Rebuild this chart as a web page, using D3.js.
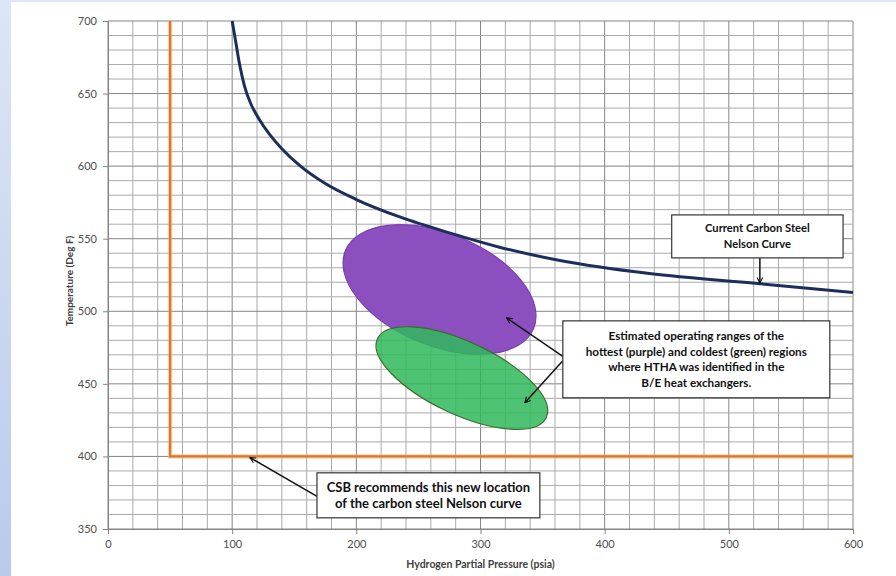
<!DOCTYPE html>
<html>
<head>
<meta charset="utf-8">
<script src="https://cdn.jsdelivr.net/npm/d3@7"></script>
<style>
  html, body { margin: 0; padding: 0; background: #fff; }
  svg { display: block; }
  text { font-family: Lato, "Open Sans", sans-serif; }
</style>
</head>
<body>
<svg id="chart"></svg>
<script>
// axis ticks
const pressureTicks = [0, 100, 200, 300, 400, 500, 600];
const tempTicks = [350, 400, 450, 500, 550, 600, 650, 700];

// current carbon steel Nelson curve (psia, deg F)
const nelsonPressure = [100, 103, 106, 110, 115, 122, 130, 140, 155, 175, 200, 235, 275, 316, 364, 436, 525, 600];
const nelsonTemp = [700, 685, 670, 655, 643, 632, 622, 612, 600, 588, 577, 565, 554, 544, 535, 526, 519, 513];

// CSB recommended limit
const csbPressure = [50, 50, 600];
const csbTemp = [700, 400, 400];

// HTHA operating regions (centre, half spread along tilt, tilt deg)
const regionNames = ["hottest", "coldest"];
const regionPressure = [267, 285];
const regionTemp = [515, 454];
const regionSpreadP = [82, 75];
const regionSpreadT = [38.6, 25];
const regionTilt = [22.5, 25];

const W = 896, H = 576;
const margin = {left: 108, right: 43, top: 21, bottom: 47};

const svg = d3.select("#chart")
    .attr("width", W)
    .attr("height", H);

// bluish slide background
const defs = svg.append("defs");
const bg = defs.append("linearGradient")
    .attr("id", "bg")
    .attr("x1", 0).attr("y1", 0).attr("x2", 0).attr("y2", 1);
bg.append("stop").attr("offset", 0).attr("stop-color", "#dde6f6");
bg.append("stop").attr("offset", 1).attr("stop-color", "#b9caeb");

defs.append("marker")
    .attr("id", "arrow")
    .attr("viewBox", "0 -5 10 10")
    .attr("refX", 9).attr("refY", 0)
    .attr("markerWidth", 7).attr("markerHeight", 7)
    .attr("markerUnits", "userSpaceOnUse")
    .attr("orient", "auto")
    .append("path")
    .attr("d", "M1,-4L9,0L1,4")
    .attr("fill", "none")
    .attr("stroke", "#111")
    .attr("stroke-width", 1.6);

svg.append("rect").attr("width", W).attr("height", H).attr("fill", "url(#bg)");
svg.append("rect").attr("x", 11).attr("y", 2).attr("width", W - 11).attr("height", H - 2).attr("fill", "#fff");

const x = d3.scaleLinear().domain([0, 600]).range([margin.left, W - margin.right]);
const y = d3.scaleLinear().domain([350, 700]).range([H - margin.bottom, margin.top]);

// grid: minor every 20 psia / 10 deg, major on the ticks
const g = svg.append("g");
g.selectAll("line.vx")
    .data(d3.range(0, 601, 20))
    .join("line")
    .attr("x1", d => x(d)).attr("x2", d => x(d))
    .attr("y1", y(350)).attr("y2", y(700))
    .attr("stroke", d => d % 100 === 0 ? "#858585" : "#ababab")
    .attr("stroke-width", 1);
g.selectAll("line.hy")
    .data(d3.range(350, 701, 10))
    .join("line")
    .attr("x1", x(0)).attr("x2", x(600))
    .attr("y1", d => y(d)).attr("y2", d => y(d))
    .attr("stroke", d => d % 50 === 0 ? "#858585" : "#ababab")
    .attr("stroke-width", 1);

// axes
const xAxis = svg.append("g")
    .attr("transform", `translate(0,${y(350)})`)
    .call(d3.axisBottom(x).tickValues(pressureTicks).tickSize(5).tickPadding(6));
const yAxis = svg.append("g")
    .attr("transform", `translate(${x(0)},0)`)
    .call(d3.axisLeft(y).tickValues(tempTicks).tickSize(5).tickPadding(6));
[xAxis, yAxis].forEach(a => {
    a.select(".domain").attr("stroke", "#858585");
    a.selectAll(".tick line").attr("stroke", "#858585");
    a.selectAll(".tick text")
        .attr("fill", "#4d4d4d")
        .style("font-size", "11px")
        .style("font-family", "Lato, sans-serif");
});

svg.append("text")
    .attr("x", (x(0) + x(600)) / 2)
    .attr("y", 568)
    .attr("text-anchor", "middle")
    .attr("fill", "#404040")
    .style("font-size", "10.5px")
    .style("font-weight", "bold")
    .text("Hydrogen Partial Pressure (psia)");

svg.append("text")
    .attr("transform", `translate(73,${(y(350) + y(700)) / 2 + 6}) rotate(-90)`)
    .attr("text-anchor", "middle")
    .attr("fill", "#404040")
    .style("font-size", "10px")
    .style("font-weight", "bold")
    .text("Temperature (Deg F)");

// HTHA regions
const regionFill = ["#8b4fc0", "#2fb85a"];
const regionStroke = ["#7b3fae", "#3b6e2c"];
const regionOpacity = [1, 0.85];
regionNames.forEach((name, i) => {
    const cx = x(regionPressure[i]);
    const cy = y(regionTemp[i]);
    const rx = x(regionPressure[i] + regionSpreadP[i]) - x(regionPressure[i]);
    const ry = y(regionTemp[i]) - y(regionTemp[i] + regionSpreadT[i]);
    svg.append("ellipse")
        .attr("class", name)
        .attr("cx", 0).attr("cy", 0)
        .attr("rx", rx).attr("ry", ry)
        .attr("transform", `translate(${cx},${cy}) rotate(${regionTilt[i]})`)
        .attr("fill", regionFill[i])
        .attr("fill-opacity", regionOpacity[i])
        .attr("stroke", regionStroke[i])
        .attr("stroke-width", 1.2);
});

// CSB line
const csbData = csbPressure.map((p, i) => [p, csbTemp[i]]);
svg.append("path")
    .datum(csbData)
    .attr("d", d3.line().x(d => x(d[0])).y(d => y(d[1])))
    .attr("fill", "none")
    .attr("stroke", "#f2b27a")
    .attr("stroke-width", 4.5)
    .attr("stroke-opacity", 0.6);
svg.append("path")
    .datum(csbData)
    .attr("d", d3.line().x(d => x(d[0])).y(d => y(d[1])))
    .attr("fill", "none")
    .attr("stroke", "#d67a2a")
    .attr("stroke-width", 2.2);

// Nelson curve
const nelsonData = nelsonPressure.map((p, i) => [p, nelsonTemp[i]]);
svg.append("path")
    .datum(nelsonData)
    .attr("d", d3.line().curve(d3.curveMonotoneX).x(d => x(d[0])).y(d => y(d[1])))
    .attr("fill", "none")
    .attr("stroke", "#1c2f5c")
    .attr("stroke-width", 3);

// callouts, placed in data units
const callouts = [
    {box: [454, 592, 566.4, 536.8], lines: ["Current Carbon Steel", "Nelson Curve"], size: 11.2, lh: 16,
     arrows: [[[525, 536.8], [525, 519.5]]]},
    {box: [366.3, 581.3, 493.4, 440.4],
     lines: ["Estimated operating ranges of the", "hottest (purple) and coldest (green) regions",
             "where HTHA was identified in the", "B/E heat exchangers."], size: 11.7, lh: 15.6,
     arrows: [[[366.3, 469], [321, 495.5]], [[366.3, 466], [335.7, 437]]]},
    {box: [168.3, 347.8, 388.7, 357.7], lines: ["CSB recommends this new location", "of the carbon steel Nelson curve"], size: 13, lh: 16.5,
     arrows: [[[168.3, 372.5], [114.3, 399.2]]]}
];

callouts.forEach(c => {
    const [p0, p1, t0, t1] = c.box;
    c.arrows.forEach(a => {
        svg.append("line")
            .attr("x1", x(a[0][0])).attr("y1", y(a[0][1]))
            .attr("x2", x(a[1][0])).attr("y2", y(a[1][1]))
            .attr("stroke", "#111")
            .attr("stroke-width", 1.5)
            .attr("marker-end", "url(#arrow)");
    });
    svg.append("rect")
        .attr("x", x(p0)).attr("y", y(t0))
        .attr("width", x(p1) - x(p0)).attr("height", y(t1) - y(t0))
        .attr("fill", "#fff")
        .attr("stroke", "#333")
        .attr("stroke-width", 1.2);
    const midY = (y(t0) + y(t1)) / 2;
    const firstY = midY - c.lh * (c.lines.length - 1) / 2 + c.size * 0.35;
    c.lines.forEach((s, i) => {
        svg.append("text")
            .attr("x", (x(p0) + x(p1)) / 2)
            .attr("y", firstY + i * c.lh)
            .attr("text-anchor", "middle")
            .attr("fill", "#111")
            .style("font-size", c.size + "px")
            .style("font-weight", "bold")
            .text(s);
    });
});
</script>
</body>
</html>
